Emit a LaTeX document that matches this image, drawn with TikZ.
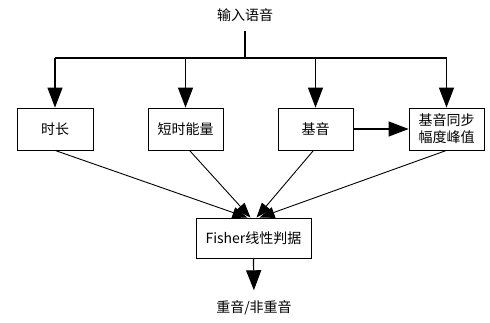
\documentclass[tikz,border=0pt]{standalone}
\usepackage{fontspec}
\setmainfont{Noto Sans CJK SC}
\usetikzlibrary{arrows.meta}

\tikzstyle{feat} = [rectangle, draw=black, line width=0.8pt, minimum width=75pt, minimum height=42pt, text centered, inner sep=2pt]
\tikzstyle{tri} = [-{Triangle[width=15pt,length=20pt]}, line width=1.2pt]
\tikzstyle{merge} = [-{Triangle[width=11pt,length=15pt]}, line width=0.9pt]

\begin{document}
\begin{tikzpicture}[x=1pt, y=-1pt, font=\fontsize{14}{17}\selectfont]
\useasboundingbox (0,0) rectangle (490,322);

\node (speech) at (245,15) {输入语音};
\coordinate (split) at (245,58);

\node (dur) [feat, minimum width=76pt] at (55,129) {时长};
\node (energy) [feat] at (185.5,129) {短时能量};
\node (pitch) [feat] at (315.5,129) {基音};
\node (peak) [feat, align=center] at (446.5,129) {基音同步\\幅度峰值};

\node (fisher) [feat, minimum width=115pt, minimum height=40pt] at (253.5,238) {Fisher线性判据};
\node (result) at (254,308) {重音/非重音};

% input fan-out
\draw [line width=1.2pt] (speech.south) ++(0,6) -- (split);
\draw [line width=1.2pt] (dur.north |- split) -- (peak.north |- split);
\draw [tri] (dur.north |- split) -- (dur.north);
\draw [tri] (energy.north |- split) -- (energy.north);
\draw [tri] (pitch.north |- split) -- (pitch.north);
\draw [tri] (peak.north |- split) -- (peak.north);

\draw [tri] (pitch.east) -- (peak.west);

% features into the classifier
\draw [merge] (dur.south) -- ([xshift=-6pt]fisher.north);
\draw [merge] ([xshift=4pt]energy.south) -- ([xshift=-3pt]fisher.north);
\draw [merge] ([xshift=-2pt]pitch.south) -- ([xshift=3pt]fisher.north);
\draw [merge] (peak.south) -- ([xshift=6pt]fisher.north);

\draw [tri, shorten >=7pt] (fisher.south) -- (result.north);
\end{tikzpicture}
\end{document}
